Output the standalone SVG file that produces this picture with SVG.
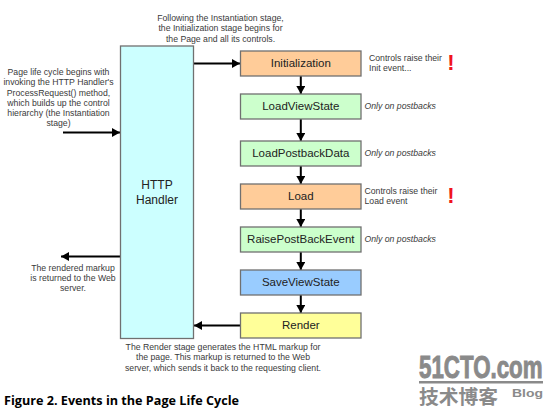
<svg xmlns="http://www.w3.org/2000/svg" width="552" height="415" viewBox="0 0 552 415">
<style>
text{font-family:"Liberation Sans",Arial,sans-serif;fill:#3a3a3a}
.n{font-size:8.7px;text-anchor:middle}
.l{font-size:8.7px}
.i{font-size:8.7px;font-style:italic}
.t{font-size:11.5px;text-anchor:middle;fill:#222}
.b{stroke:#707070;stroke-width:1.3}
.c{stroke:#000;stroke-width:2;fill:none;marker-end:url(#a)}
.x{font-size:22px;font-weight:bold;fill:#f0141c;text-anchor:middle}
.w{fill:#8a8a8a;font-weight:bold}
</style>
<defs>
<marker id="a" markerUnits="userSpaceOnUse" markerWidth="9" markerHeight="9" refX="8" refY="4.500" orient="auto"><path d="M0 0L8 4.500L0 9Z" fill="#000"/></marker>
</defs>
<rect width="552" height="415" fill="#fff"/>
<g id="connectors">
<path class="c" d="M63 132.500H120"/>
<path class="c" d="M193.500 63.500H240"/>
<path class="c" d="M121 256.500H61"/>
<path class="c" d="M240.500 325.500H194"/>
<path class="c" d="M300.800 76V94"/>
<path class="c" d="M300.800 119V141"/>
<path class="c" d="M300.800 166V184"/>
<path class="c" d="M300.800 209V227"/>
<path class="c" d="M300.800 252V270"/>
<path class="c" d="M300.800 295V313"/>
</g>
<g id="http-handler"><rect class="b" x="120.500" y="46" width="73" height="292.500" fill="#ccffff"/><text class="t" x="157" y="189" style="font-size:12px">HTTP</text><text class="t" x="157" y="203.500" style="font-size:12px">Handler</text></g>
<g id="initialization"><rect class="b" x="240.500" y="51" width="120.500" height="25" fill="#ffcc99"/><text class="t" x="300.800" y="67">Initialization</text></g>
<g id="loadviewstate"><rect class="b" x="240.500" y="94" width="120.500" height="25" fill="#ccffcc"/><text class="t" x="300.800" y="110">LoadViewState</text></g>
<g id="loadpostbackdata"><rect class="b" x="240.500" y="141" width="120.500" height="25" fill="#ccffcc"/><text class="t" x="300.800" y="157">LoadPostbackData</text></g>
<g id="load"><rect class="b" x="240.500" y="184" width="120.500" height="25" fill="#ffcc99"/><text class="t" x="300.800" y="200">Load</text></g>
<g id="raisepostbackevent"><rect class="b" x="240.500" y="227" width="120.500" height="25" fill="#ccffcc"/><text class="t" x="300.800" y="243">RaisePostBackEvent</text></g>
<g id="saveviewstate"><rect class="b" x="240.500" y="270" width="120.500" height="25" fill="#99ccff"/><text class="t" x="300.800" y="286">SaveViewState</text></g>
<g id="render"><rect class="b" x="240.500" y="313" width="120.500" height="25" fill="#ffff99"/><text class="t" x="300.800" y="329">Render</text></g>
<g id="labels">
<text class="n" x="58.500" y="75">Page life cycle begins with</text>
<text class="n" x="58.500" y="85.300">invoking the HTTP Handler's</text>
<text class="n" x="58.500" y="95.500">ProcessRequest() method,</text>
<text class="n" x="58.500" y="105.800">which builds up the control</text>
<text class="n" x="58.500" y="116">hierarchy (the Instantiation</text>
<text class="n" x="58.500" y="126.300">stage)</text>
<text class="n" x="220.500" y="21">Following the Instantiation stage,</text>
<text class="n" x="220.500" y="31.300">the Initialization stage begins for</text>
<text class="n" x="220.500" y="41.500">the Page and all its controls.</text>
<text class="l" x="369" y="61">Controls raise their</text>
<text class="l" x="369" y="71.300">Init event...</text>
<text class="i" x="364.500" y="109">Only on postbacks</text>
<text class="i" x="364.500" y="156">Only on postbacks</text>
<text class="l" x="364.500" y="194">Controls raise their</text>
<text class="l" x="364.500" y="204.300">Load event</text>
<text class="i" x="364.500" y="242">Only on postbacks</text>
<text class="n" x="73" y="270.800">The rendered markup</text>
<text class="n" x="73" y="281">is returned to the Web</text>
<text class="n" x="73" y="291.300">server.</text>
<text class="n" x="223" y="350">The Render stage generates the HTML markup for</text>
<text class="n" x="223" y="360.300">the page.  This markup is returned to the Web</text>
<text class="n" x="223" y="370.500">server, which sends it back to the requesting client.</text>
<text class="x" x="451" y="70">!</text>
<text class="x" x="451" y="203">!</text>
</g>
<text id="caption" x="4" y="405" font-size="12.500" font-weight="bold" textLength="235" lengthAdjust="spacingAndGlyphs" style="font-family:'Open Sans','Noto Sans',sans-serif;fill:#000">Figure 2. Events in the Page Life Cycle</text>
<g id="watermark">
<text class="w" transform="translate(419 378) scale(.697 1)" font-size="32" stroke="#8a8a8a" stroke-width="1">51CTO.com</text>
<rect x="419" y="381" width="124" height="2.500" fill="#8a8a8a"/>
<text class="w" x="419" y="404" font-size="19.500" textLength="79" lengthAdjust="spacingAndGlyphs" style="font-family:'Noto Sans CJK SC',sans-serif">技术博客</text>
<text class="w" x="512" y="397" font-size="11.500" textLength="31" lengthAdjust="spacingAndGlyphs">Blog</text>
</g>
</svg>
